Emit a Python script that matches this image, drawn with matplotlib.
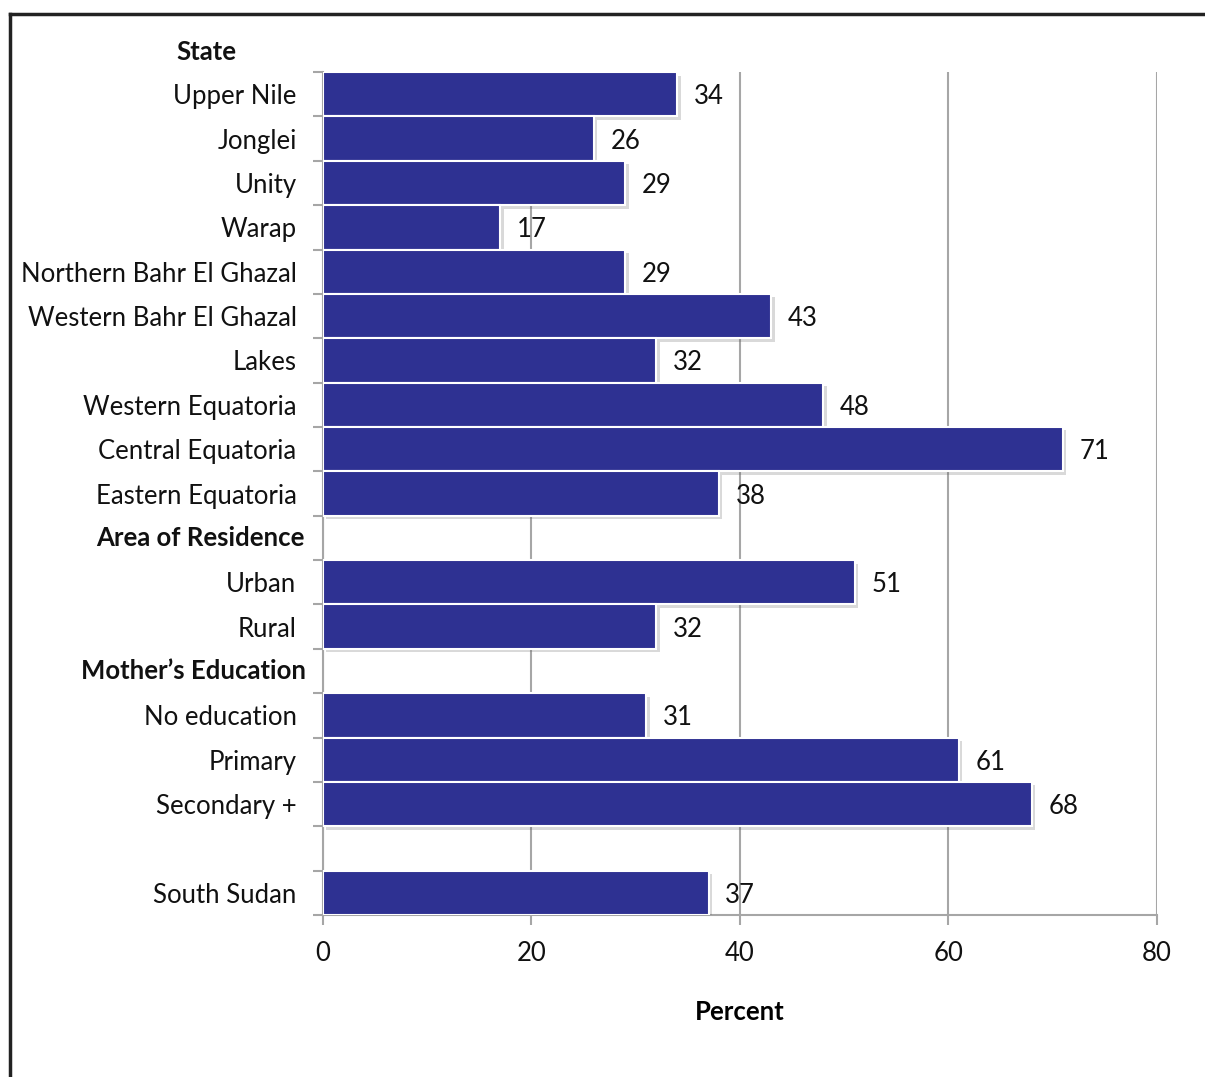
import matplotlib
matplotlib.use("Agg")
import matplotlib.pyplot as plt
import matplotlib.patheffects as pe
from matplotlib.lines import Line2D
from matplotlib.transforms import blended_transform_factory

# ---------------- data ----------------
state_names = ["Upper Nile", "Jonglei", "Unity", "Warap", "Northern Bahr El Ghazal",
               "Western Bahr El Ghazal", "Lakes", "Western Equatoria",
               "Central Equatoria", "Eastern Equatoria"]
state_values = [34, 26, 29, 17, 29, 43, 32, 48, 71, 38]

residence_names = ["Urban", "Rural"]
residence_values = [51, 32]

education_names = ["No education", "Primary", "Secondary +"]
education_values = [31, 61, 68]

total_name = "South Sudan"
total_value = 37

headers = ["State", "Area of Residence", "Mother\u2019s Education"]
x_ticks = [0, 20, 40, 60, 80]

# rows top to bottom; None value = header / blank row
rows = []
rows += list(zip(state_names, state_values))
rows.append((headers[1], None))
rows += list(zip(residence_names, residence_values))
rows.append((headers[2], None))
rows += list(zip(education_names, education_values))
rows.append(("", None))
rows.append((total_name, total_value))

plt.rcParams["font.family"] = ["Lato", "DejaVu Sans"]
BAR = "#2E3192"
GRID = "#A6A6A6"
FS = 18.5

fig = plt.figure(figsize=(12.05, 10.77), dpi=100)
ax = fig.add_axes([0.268, 0.1504, 0.692, 0.7827])

n = len(rows)
bar_y = [i for i, (_, v) in enumerate(rows) if v is not None]
bar_v = [v for _, v in rows if v is not None]
bar_lab = [name for name, v in rows if v is not None]

bars = ax.barh(bar_y, bar_v, height=1.0, color=BAR, edgecolor="white",
               linewidth=1.5, zorder=3)
for b in bars:
    b.set_path_effects([pe.SimplePatchShadow(offset=(2.5, -2.5), alpha=0.22,
                                             shadow_rgbFace="#555555"),
                        pe.Normal()])

for y, v in zip(bar_y, bar_v):
    ax.annotate(str(v), xy=(v, y), xytext=(12, 0), textcoords="offset points",
                ha="left", va="center_baseline", fontsize=FS, color="#111111",
                zorder=4)

ax.set_xlim(0, 80)
ax.set_ylim(n - 0.5, -0.5)
ax.set_xticks(x_ticks)
ax.set_xticklabels([str(t) for t in x_ticks], fontsize=FS)
ax.set_yticks(bar_y)
ax.set_yticklabels(bar_lab, fontsize=FS)
ax.set_yticks([i - 0.5 for i in range(n + 1)], minor=True)
ax.tick_params(axis="y", which="major", length=0, pad=19, colors="#111111")
ax.tick_params(axis="y", which="minor", length=7, width=1.5, color=GRID)
ax.tick_params(axis="x", length=7, width=1.5, color=GRID, pad=12,
               labelcolor="#111111")

ax.grid(axis="x", color=GRID, linewidth=1.5, zorder=0)
ax.set_axisbelow(True)
for s in ["top", "right"]:
    ax.spines[s].set_visible(False)
for s in ["left", "bottom"]:
    ax.spines[s].set_color(GRID)
    ax.spines[s].set_linewidth(1.5)

# section headers
tr = blended_transform_factory(fig.transFigure, ax.transData)
ax.text(206 / 1205, -0.95, headers[0], transform=tr, ha="center", va="center",
        fontsize=FS, fontweight="bold", color="#111111")
for i, (name, v) in enumerate(rows):
    if v is None and name:
        cx = 200 / 1205 if name == headers[1] else 193 / 1205
        ax.text(cx, i, name, transform=tr, ha="center", va="center",
                fontsize=FS, fontweight="bold", color="#111111")

ax.set_xlabel("Percent", fontsize=FS, fontweight="bold", labelpad=24)

# outer frame (left and top edges visible)
fig.add_artist(Line2D([10 / 1205, 10 / 1205], [0, 1 - 14 / 1077],
                      transform=fig.transFigure, color="#222222", linewidth=2.5))
fig.add_artist(Line2D([10 / 1205, 1], [1 - 14 / 1077, 1 - 14 / 1077],
                      transform=fig.transFigure, color="#222222", linewidth=2.5))

fig.savefig("out.png", dpi=100, facecolor="white")
